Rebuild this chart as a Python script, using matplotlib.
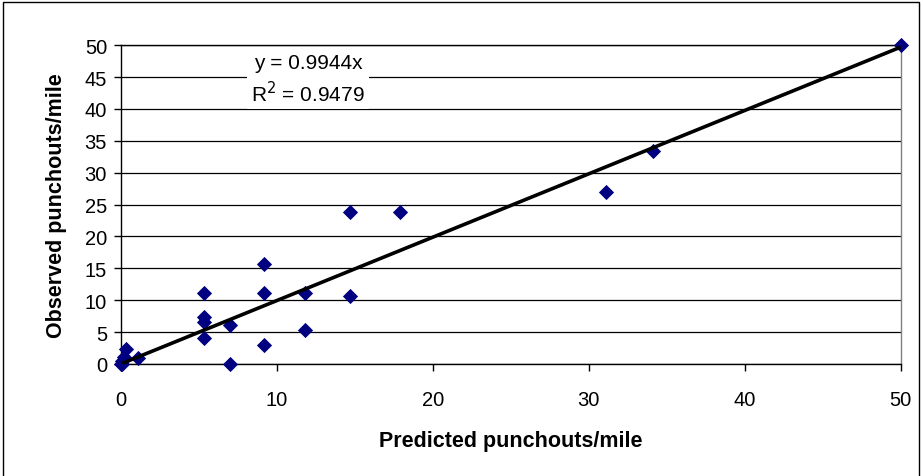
import numpy as np
import matplotlib.pyplot as plt
from matplotlib.patches import Rectangle

plt.rcParams['font.family'] = ['Liberation Sans', 'DejaVu Sans']

# predicted vs observed punchouts per mile
predicted = [0.0, 0.05, 0.2, 0.3, 0.1, 1.1,
             5.3, 5.3, 5.3, 5.3, 7.0, 7.0,
             9.2, 9.2, 9.2, 11.8, 11.8, 14.7,
             14.7, 17.9, 31.1, 34.1, 50.0]
observed = [0.0, 0.0, 1.1, 2.3, 0.5, 0.9,
            11.2, 7.3, 6.6, 4.0, 6.1, 0.0,
            15.6, 11.2, 3.0, 11.2, 5.3, 10.6,
            23.8, 23.8, 27.0, 33.4, 50.0]
slope = 0.9944
r_squared = 0.9479

fig = plt.figure(figsize=(9.23, 4.77), dpi=100)
ax = fig.add_axes([0.131, 0.235, 0.845, 0.668])

# outer chart border (runs off the bottom of the picture)
fig.patches.append(Rectangle((3 / 923, -0.05), 916 / 923, 1.05 - 3 / 477,
                             transform=fig.transFigure, fill=False,
                             edgecolor='black', linewidth=1.0))

ax.scatter(predicted, observed, marker='D', s=60, color='#000080',
           linewidths=0, zorder=3, clip_on=False)

xs = np.array([0, 50])
ax.plot(xs, slope * xs, color='black', linewidth=2.6, zorder=4,
        solid_capstyle='butt')

ax.set_xlim(0, 50)
ax.set_ylim(0, 50)
ax.set_xticks(range(0, 51, 10))
ax.set_yticks(range(0, 51, 5))
ax.yaxis.grid(True, color='black', linewidth=0.9)
ax.set_axisbelow(True)

for side in ['left', 'bottom', 'top']:
    ax.spines[side].set_color('black')
    ax.spines[side].set_linewidth(1.0)
ax.spines['right'].set_color('#808080')
ax.spines['right'].set_linewidth(1.0)

ax.tick_params(axis='x', direction='out', length=5, width=1, pad=14, labelsize=14.5)
ax.tick_params(axis='y', direction='out', length=5, width=1, pad=5, labelsize=14.5)

ax.set_xlabel('Predicted punchouts/mile', fontsize=15.5, fontweight='bold', labelpad=15)
ax.set_ylabel('Observed punchouts/mile', fontsize=15.5, fontweight='bold', labelpad=13)

ax.text(12.0, 44.7, 'y = %.4fx\nR$^2$ = %.4f' % (slope, r_squared),
        ha='center', va='center', fontsize=15, linespacing=1.35, zorder=5,
        bbox=dict(facecolor='white', edgecolor='none', pad=3))

fig.savefig('out.png', dpi=100)
